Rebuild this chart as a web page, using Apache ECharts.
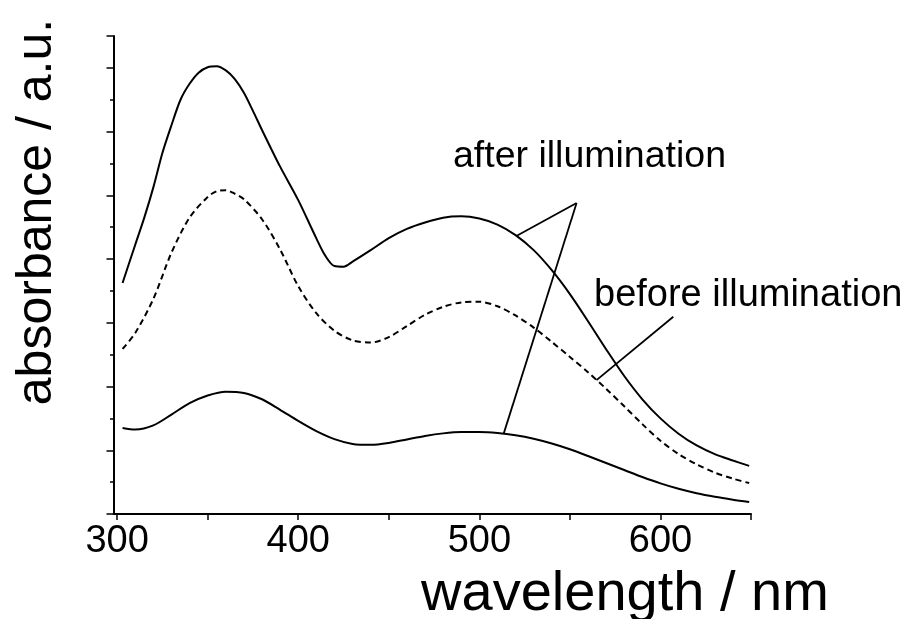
<!DOCTYPE html>
<html>
<head>
<meta charset="utf-8">
<script src="https://cdn.jsdelivr.net/npm/echarts@6/dist/echarts.min.js"></script>
<style>html,body{margin:0;padding:0;background:#fff;}#c{width:906px;height:619px;}</style>
</head>
<body>
<div id="c"></div>
<script>
// upper solid curve (after illumination)
const afterTopX = [303,310,315,320,325,330,335,340,345,350,355,360,365,370,375,380,390,400,410,415,420,425,430,440,450,460,470,480,490,500,510,520,530,540,550,560,570,580,590,600,610,620,630,640,649];
const afterTopY = [7.25,8.45,9.3,10.25,11.33,12.2,13.0,13.5,13.85,14.02,14.05,13.92,13.65,13.22,12.65,12.05,10.9,9.85,8.65,8.1,7.78,7.76,7.92,8.28,8.66,8.95,9.15,9.3,9.34,9.27,9.08,8.75,8.28,7.65,6.9,6.05,5.17,4.33,3.6,3.0,2.52,2.15,1.88,1.68,1.51];

// dashed curve (before illumination)
const beforeX = [303,310,320,330,340,350,355,360,365,370,380,390,400,410,420,430,440,450,460,470,480,490,500,510,520,530,540,550,560,570,580,590,600,610,620,630,640,649];
const beforeY = [5.18,5.68,6.75,8.2,9.3,9.95,10.13,10.16,10.05,9.88,9.25,8.3,7.15,6.3,5.75,5.45,5.38,5.55,5.9,6.25,6.5,6.64,6.66,6.52,6.23,5.85,5.4,4.93,4.45,3.93,3.38,2.82,2.3,1.88,1.56,1.3,1.11,0.97];

// lower solid curve (after illumination)
const afterLowX = [303,310,320,330,340,350,360,370,380,390,400,410,420,430,440,450,460,470,480,490,500,510,520,530,540,550,560,570,580,590,600,610,620,630,640,649];
const afterLowY = [2.70,2.65,2.78,3.12,3.48,3.72,3.84,3.80,3.6,3.27,2.92,2.6,2.35,2.2,2.17,2.23,2.34,2.45,2.53,2.57,2.57,2.54,2.47,2.36,2.21,2.03,1.82,1.6,1.38,1.16,0.96,0.79,0.65,0.54,0.45,0.38];

const xTicks = [300,350,400,450,500,550,600,650];
const xLabels = [300,400,500,600];

// annotation leader lines (data coordinates)
const afterApex = [553.7, 9.76];
const afterEndTop = [520.7, 8.73];
const afterEndLow = [513.5, 2.53];
const beforeStart = [607.1, 6.19];
const beforeEnd = [564.7, 4.2];

const zip = (xs, ys) => xs.map((x, i) => [x, ys[i]]);
const FONT = '"Liberation Sans", Arial, Helvetica, sans-serif';

const chart = echarts.init(document.getElementById('c'), null, {renderer: 'canvas'});
chart.setOption({
  animation: false,
  backgroundColor: '#fff',
  grid: {left: 113.5, right: 155, top: 36, bottom: 105, containLabel: false},
  xAxis: {
    type: 'value', min: 298, max: 650,
    axisLine: {show: true, lineStyle: {color: '#000', width: 2}},
    axisTick: {show: true, length: 6, lineStyle: {color: '#000', width: 1.5}, customValues: xTicks},
    axisLabel: {show: true, color: '#000', fontSize: 38, fontFamily: FONT, margin: 9, customValues: xLabels},
    splitLine: {show: false}
  },
  yAxis: [{
    type: 'value', min: 0, max: 15, interval: 1,
    axisLine: {show: true, lineStyle: {color: '#000', width: 2}},
    axisTick: {show: true, length: 3.5, lineStyle: {color: '#000', width: 1.5}},
    axisLabel: {show: false},
    splitLine: {show: false}
  }, {
    type: 'value', min: 0, max: 15, interval: 2, position: 'left',
    axisLine: {show: false},
    axisTick: {show: true, length: 7, lineStyle: {color: '#000', width: 1.5}},
    axisLabel: {show: false},
    splitLine: {show: false}
  }],
  series: [{
    type: 'line', data: zip(afterTopX, afterTopY), smooth: 0.3, showSymbol: false,
    lineStyle: {color: '#000', width: 2},
    markLine: {
      silent: true, symbol: ['none', 'none'], label: {show: false},
      lineStyle: {color: '#000', width: 1.8, type: 'solid'},
      data: [
        [{coord: afterApex}, {coord: afterEndTop}],
        [{coord: afterApex}, {coord: afterEndLow}],
        [{coord: beforeStart}, {coord: beforeEnd}]
      ]
    }
  }, {
    type: 'line', data: zip(beforeX, beforeY), smooth: 0.3, showSymbol: false,
    lineStyle: {color: '#000', width: 2, type: [6, 4]}
  }, {
    type: 'line', data: zip(afterLowX, afterLowY), smooth: 0.3, showSymbol: false,
    lineStyle: {color: '#000', width: 2}
  }],
  graphic: [{
    type: 'text', x: 37, y: 212, rotation: Math.PI / 2,
    style: {text: 'absorbance / a.u.', font: '50px ' + FONT, fill: '#000', textAlign: 'center', textVerticalAlign: 'middle'}
  }, {
    type: 'text', x: 625, y: 595,
    style: {text: 'wavelength / nm', font: '56px ' + FONT, fill: '#000', textAlign: 'center', textVerticalAlign: 'middle'}
  }, {
    type: 'text', x: 453, y: 157,
    style: {text: 'after illumination', font: '37.5px ' + FONT, fill: '#000', textAlign: 'left', textVerticalAlign: 'middle'}
  }, {
    type: 'text', x: 594, y: 296,
    style: {text: 'before illumination', font: '38px ' + FONT, fill: '#000', textAlign: 'left', textVerticalAlign: 'middle'}
  }]
});
</script>
</body>
</html>
